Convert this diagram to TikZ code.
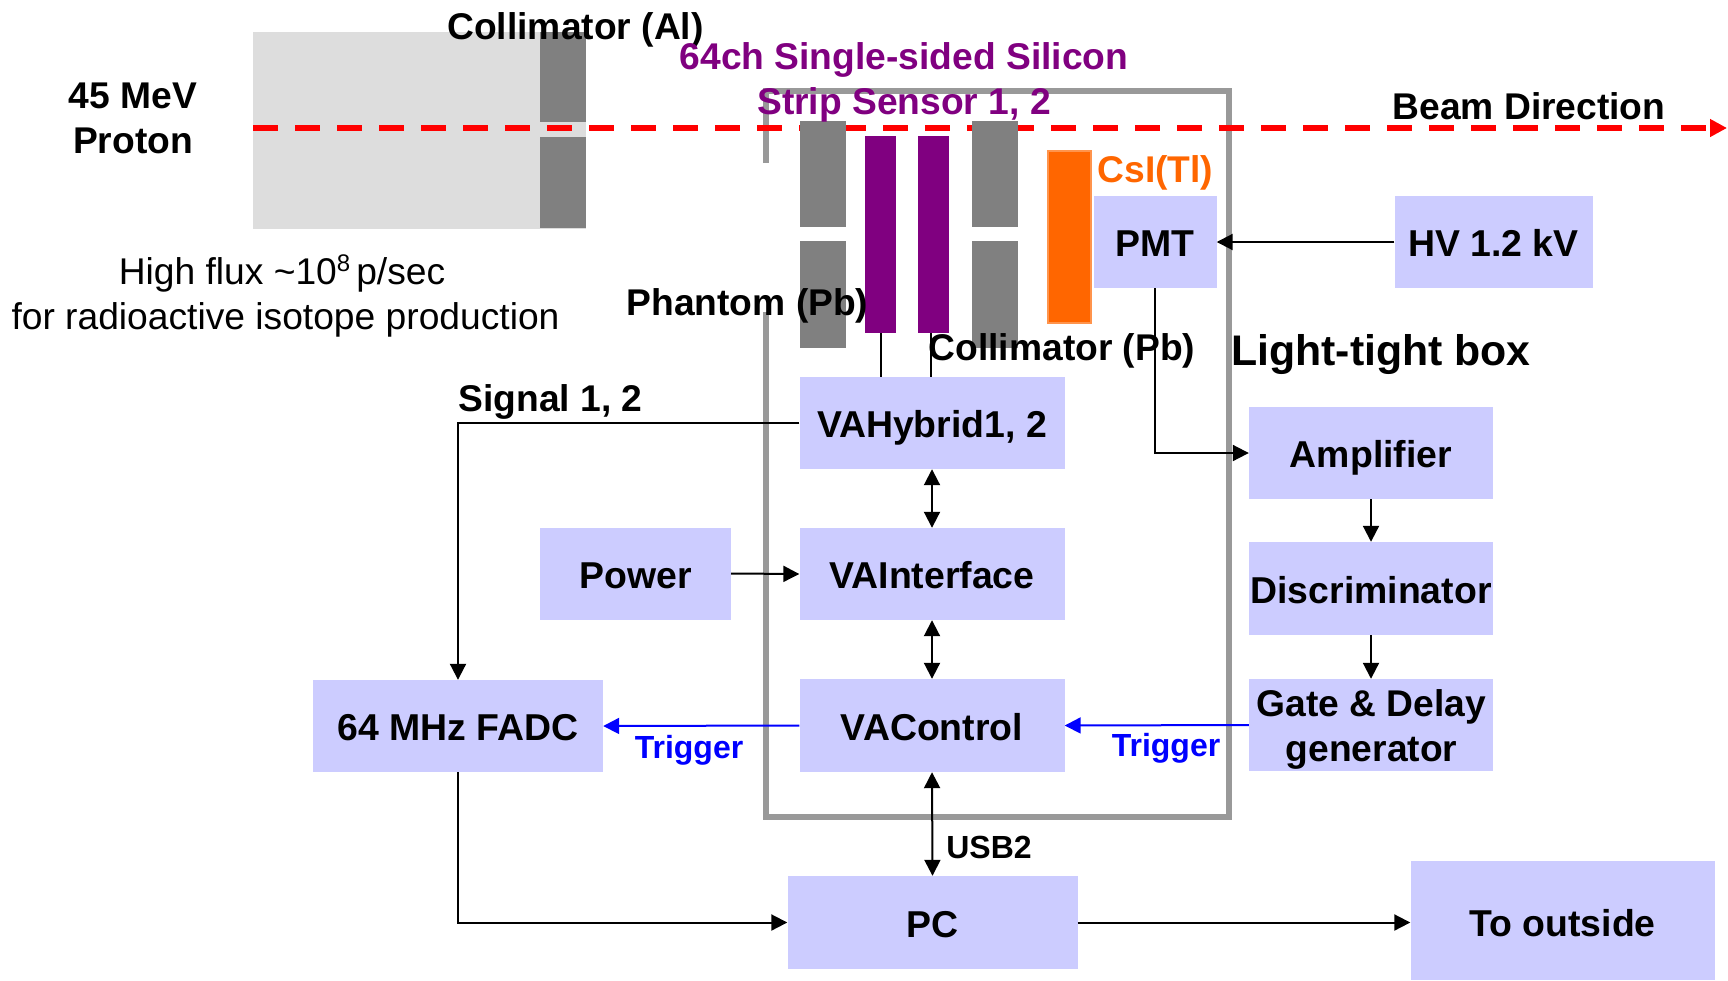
\documentclass[tikz,border=0pt]{standalone}
\usepackage{fontspec}
\setmainfont{Liberation Sans}
\usetikzlibrary{arrows.meta}
\definecolor{blockfill}{HTML}{CCCCFF}
\definecolor{metal}{HTML}{808080}
\definecolor{haze}{HTML}{DDDDDD}
\definecolor{boxline}{HTML}{999999}
\definecolor{sensor}{HTML}{800080}
\definecolor{csi}{HTML}{FF6600}
\definecolor{trig}{HTML}{0000FF}
\tikzset{
  blockbox/.style={fill=blockfill,inner sep=0pt,align=center,text height=29.4pt,text depth=0pt,font=\fontsize{37.4}{45}\selectfont\bfseries},
  plain/.style={inner sep=0pt,align=center,font=\fontsize{37.2}{45}\selectfont},
  lab/.style={inner sep=0pt,align=center,font=\fontsize{37.2}{45}\selectfont\bfseries},
  small/.style={inner sep=0pt,font=\fontsize{32}{38}\selectfont\bfseries},
  conn/.style={draw=black,line width=2pt,-{Triangle[length=16pt,width=16pt]}},
  both/.style={draw=black,line width=2pt,{Triangle[length=16pt,width=16pt]}-{Triangle[length=16pt,width=16pt]}},
  wire/.style={draw=black,line width=2pt},
  trigarrow/.style={draw=trig,line width=2pt,-{Triangle[length=16pt,width=16pt]}},
  block/.style={fill=metal,inner sep=0pt,minimum width=46pt},
}
\begin{document}
\begin{tikzpicture}[x=1pt,y=-1pt]
\useasboundingbox (0,0) rectangle (1728,980);
% target and collimator
\fill[haze] (253,32) rectangle (586,229);
\fill[metal] (540,32) rectangle (586,122);
\fill[metal] (540,137) rectangle (586,228);
% light-tight box
\draw[boxline,line width=6pt,line cap=butt] (766,163) -- (766,91) -- (1229,91) -- (1229,816.5) -- (766,816.5) -- (766,312);
% beam
\coordinate (beamstart) at (253,128);
\coordinate (beamend) at (1727,128);
\draw[red,line width=6.5pt,dash pattern=on 24.5pt off 17.5pt,-{Triangle[length=17pt,width=17pt]}] (beamstart) -- (beamend);
% stack
\node[block,minimum height=106pt] (ph1) at (823,174) {};
\node[block,minimum height=107pt] (ph2) at (823,294.5) {};
\node[block,minimum height=106pt] (co1) at (995,174) {};
\node[block,minimum height=107pt] (co2) at (995,294.5) {};
\node[fill=sensor,inner sep=0pt,minimum width=31pt,minimum height=197pt] (s1) at (880.5,234.5) {};
\node[fill=sensor,inner sep=0pt,minimum width=31pt,minimum height=197pt] (s2) at (933.5,234.5) {};
\node[fill=csi,draw=csi!70!white,line width=1.5pt,inner sep=0pt,minimum width=43pt,minimum height=172pt] (scint) at (1069.5,237) {};
% blocks
\node[blockbox,minimum width=123pt,minimum height=92pt] (pmt) at (1155,242) {PMT};
\node[blockbox,minimum width=198pt,minimum height=92pt] (hv) at (1493.5,242) {HV 1.2 kV};
\node[blockbox,minimum width=265pt,minimum height=92pt] (vah) at (932,423) {VAHybrid1, 2};
\node[blockbox,minimum width=265pt,minimum height=92pt] (vai) at (932,574) {VAInterface};
\node[blockbox,minimum width=265pt,minimum height=93pt] (vac) at (932,725.5) {VAControl};
\node[blockbox,minimum width=191pt,minimum height=92pt] (pow) at (635.5,573.5) {Power};
\node[blockbox,minimum width=290pt,minimum height=92pt] (fadc) at (458,726) {64 MHz FADC};
\node[blockbox,minimum width=290pt,minimum height=93pt] (pc) at (932.5,922.5) {PC};
\node[blockbox,minimum width=244pt,minimum height=92pt] (amp) at (1371,453) {Amplifier};
\node[blockbox,minimum width=244pt,minimum height=93pt] (disc) at (1371,588.5) {Discriminator};
\node[fill=blockfill,inner sep=0pt,minimum width=244pt,minimum height=92pt] (gate) at (1371,725) {};
\node[blockbox,text height=32.4pt,minimum width=304pt,minimum height=119pt] (out) at (1562.5,920.5) {To outside};
% connectors
\coordinate (s1out) at (881,333);
\coordinate (s2out) at (930.5,333);
\draw[wire] (s1out) -- (s1out |- vah.north);
\draw[wire] (s2out) -- (s2out |- vah.north);
\draw[conn] (hv.west) -- (pmt.east);
\draw[conn] (pmt.south) -- (pmt.south |- amp.west) -- (amp.west);
\draw[conn] (vah.west) -- (fadc.north |- vah.west) -- (fadc.north);
\draw[both] (vah.south) -- (vai.north);
\draw[both] (vai.south) -- (vac.north);
\draw[both] (vac.south) -- (pc.north);
\draw[conn] (pow.east) -- (vai.west);
\draw[conn] (amp.south) -- (disc.north);
\draw[conn] (disc.south) -- (gate.north);
\draw[trigarrow] (vac.west) -- (fadc.east);
\draw[trigarrow] (gate.west) -- (vac.east);
\draw[conn] (fadc.south) -- (fadc.south |- pc.west) -- (pc.west);
\draw[conn] (pc.east) -- (out.west |- pc.east);
% labels
\node[lab] (gatetext) at (1371.5,729.5) {Gate \& Delay\\generator};
\node[lab] (l1) at (575.5,29.5) {Collimator (Al)};
\node[lab,text=sensor] (l2) at (904,82) {64ch Single-sided Silicon\\Strip Sensor 1, 2};
\node[lab] (l3) at (133,118.5) {45 MeV\\Proton};
\node[plain] (l4) at (285.5,296) {High flux \textasciitilde10\raisebox{0.36em}{\fontsize{24}{28}\selectfont 8}\hspace{6pt}p/sec\hspace*{7pt}\\for radioactive isotope production};
\node[lab] (l5) at (747.5,306) {Phantom (Pb)};
\node[lab] (l6) at (1062,351) {Collimator (Pb)};
\node[lab,text=csi] (l7) at (1155.5,172.5) {CsI(Tl)};
\node[lab,font=\fontsize{42.8}{50}\selectfont\bfseries] (l8) at (1381,355) {Light-tight box};
\node[lab] (l9) at (1529,106) {Beam Direction};
\node[lab] (l10) at (550.5,401.5) {Signal 1, 2};
\node[small] (l11) at (989,847) {USB2};
\node[small,text=trig] (l12) at (689,750) {Trigger};
\node[small,text=trig] (l13) at (1166,748) {Trigger};
\end{tikzpicture}
\end{document}
